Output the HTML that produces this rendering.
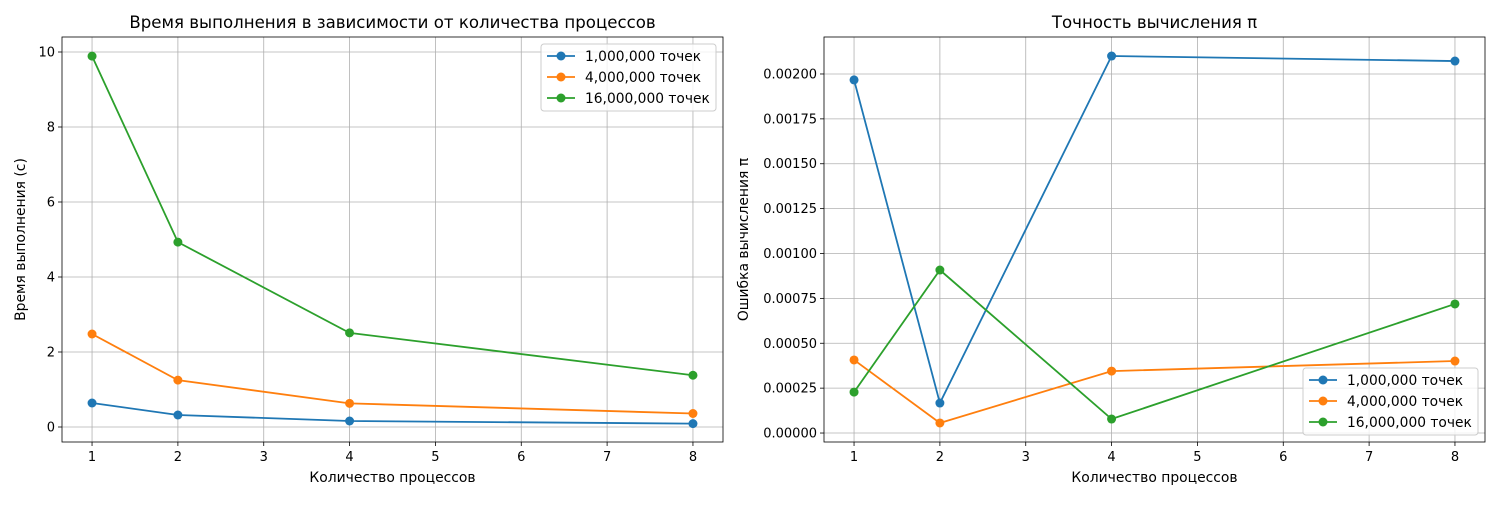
<!DOCTYPE html>
<html><head><meta charset="utf-8"><style>
body{margin:0;background:#fff}
svg{font-family:"DejaVu Sans","Liberation Sans",sans-serif}
</style></head><body>
<svg id="c" width="1500" height="500" xmlns="http://www.w3.org/2000/svg"></svg>
<script>
const procs=[1,2,4,8];
const seriesNames=["1,000,000 точек","4,000,000 точек","16,000,000 точек"];
const colors=["#1f77b4","#ff7f0e","#2ca02c"];
const timeBlue=[0.64,0.32,0.16,0.09];
const timeOrange=[2.48,1.25,0.63,0.36];
const timeGreen=[9.89,4.93,2.51,1.38];
const errBlue=[0.001967,0.000167,0.0021,0.002072];
const errOrange=[0.000407,0.000056,0.000345,0.000401];
const errGreen=[0.000228,0.000908,0.000078,0.000719];
const xTicks=[1,2,3,4,5,6,7,8];
const yTicksL=[0,2,4,6,8,10];
const yTicksR=[0,0.00025,0.0005,0.00075,0.001,0.00125,0.0015,0.00175,0.002];
const svg=document.getElementById('c');
const NS="http://www.w3.org/2000/svg";
function el(t,a,txt){const e=document.createElementNS(NS,t);for(const k in a)e.setAttribute(k,a[k]);if(txt!==undefined)e.textContent=txt;svg.appendChild(e);return e;}
function panel(p){
 const sx=v=>p.x0+(v-p.xmin)/(p.xmax-p.xmin)*(p.x1-p.x0);
 const sy=v=>p.y1-(v-p.ymin)/(p.ymax-p.ymin)*(p.y1-p.y0);
 xTicks.forEach(t=>{const g=el('line',{x1:sx(t),x2:sx(t),y1:p.y0,y2:p.y1,stroke:'#b0b0b0','stroke-width':0.8});
  el('line',{x1:sx(t),x2:sx(t),y1:p.y1,y2:p.y1+4,stroke:'#000','stroke-width':0.8});
  const l=el('text',{x:sx(t),y:p.y1+19,'font-size':13,'text-anchor':'middle'},t);});
 p.yt.forEach(t=>{const g=el('line',{x1:p.x0,x2:p.x1,y1:sy(t),y2:sy(t),stroke:'#b0b0b0','stroke-width':0.8});
  el('line',{x1:p.x0-4,x2:p.x0,y1:sy(t),y2:sy(t),stroke:'#000','stroke-width':0.8});
  const l=el('text',{x:p.x0-7,y:sy(t)+4.5,'font-size':13,'text-anchor':'end'},p.fmt(t));});
 p.series.forEach((s,i)=>{
  const pl=el('polyline',{points:s.map((v,j)=>sx(procs[j])+','+sy(v)).join(' '),fill:'none',stroke:colors[i],'stroke-width':1.8});
  
  s.forEach((v,j)=>{const c=el('circle',{cx:sx(procs[j]),cy:sy(v),r:4.5,fill:colors[i]});});
 });
 const fr=el('rect',{x:p.x0,y:p.y0,width:p.x1-p.x0,height:p.y1-p.y0,fill:'none',stroke:'#000','stroke-width':0.8});
 const ti=el('text',{x:(p.x0+p.x1)/2,y:p.y0-9,'font-size':16.6,'text-anchor':'middle'},p.title);
 const xl=el('text',{x:(p.x0+p.x1)/2,y:482,'font-size':13.9,'text-anchor':'middle'},'Количество процессов');
 const yl=el('text',{x:0,y:0,'font-size':13.9,'text-anchor':'middle',transform:`translate(${p.ylx},${(p.y0+p.y1)/2}) rotate(-90)`},p.ylabel);
 const lg=el('rect',{x:p.lx,y:p.ly,width:175,height:67,fill:'#fff','fill-opacity':0.8,stroke:'#ccc',rx:3});
 seriesNames.forEach((n,i)=>{const yy=p.ly+12+i*21;
  el('line',{x1:p.lx+6,x2:p.lx+34,y1:yy,y2:yy,stroke:colors[i],'stroke-width':1.8});
  el('circle',{cx:p.lx+20,cy:yy,r:4.5,fill:colors[i]});
  const t=el('text',{x:p.lx+44,y:yy+5,'font-size':13.8},n);});
}
panel({x0:62,x1:723,y0:37,y1:442,xmin:0.65,xmax:8.35,ymin:-0.4,ymax:10.4,yt:yTicksL,fmt:t=>t,series:[timeBlue,timeOrange,timeGreen],title:'Время выполнения в зависимости от количества процессов',ylabel:'Время выполнения (с)',ylx:25,lx:541,ly:44});
panel({x0:824,x1:1485,y0:37,y1:442,xmin:0.65,xmax:8.35,ymin:-0.00005,ymax:0.002206,yt:yTicksR,fmt:t=>t.toFixed(5),series:[errBlue,errOrange,errGreen],title:'Точность вычисления π',ylabel:'Ошибка вычисления π',ylx:748,lx:1303,ly:368});
</script>
</body></html>
